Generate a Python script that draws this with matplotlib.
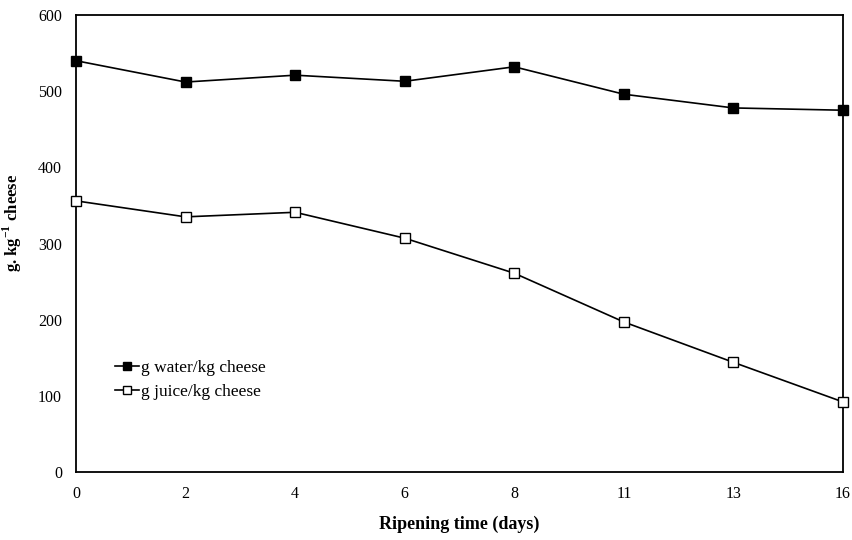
import numpy as np
import matplotlib.pyplot as plt

plt.rcParams['font.family'] = ['Liberation Serif', 'DejaVu Serif']

days = ['0', '2', '4', '6', '8', '11', '13', '16']
water = [540, 512, 521, 513, 532, 496, 478, 475]
juice = [356, 335, 341, 307, 261, 197, 144, 92]

fig = plt.figure(figsize=(8.52, 5.4), dpi=100)
ax = fig.add_axes([0.0892, 0.1259, 0.9002, 0.8463])

x = np.arange(len(days))
ax.plot(x, water, color='black', lw=1.2, marker='s', ms=7,
        mfc='black', mec='black', label='g water/kg cheese', clip_on=False, zorder=3)
ax.plot(x, juice, color='black', lw=1.2, marker='s', ms=7,
        mfc='white', mec='black', label='g juice/kg cheese', clip_on=False, zorder=3)

ax.set_xlim(0, len(days) - 1)
ax.set_ylim(0, 600)
ax.set_xticks(x)
ax.set_xticklabels(days)
ax.set_yticks(range(0, 601, 100))
ax.tick_params(length=0, labelsize=11.5, pad=10)
for s in ax.spines.values():
    s.set_linewidth(1.3)

ax.set_xlabel('Ripening time (days)', fontsize=13, fontweight='bold', labelpad=10)
ax.set_ylabel(r'g. kg$^{\mathregular{-1}}$ cheese', fontsize=12, fontweight='bold')
ax.yaxis.set_label_coords(-0.068, 0.545)

ax.legend(loc='upper left', bbox_to_anchor=(0.03, 0.28), frameon=False,
          fontsize=12.5, handlelength=1.4, handletextpad=0.1, labelspacing=0.45,
          markerscale=0.85)

fig.savefig('out.png', dpi=100)
